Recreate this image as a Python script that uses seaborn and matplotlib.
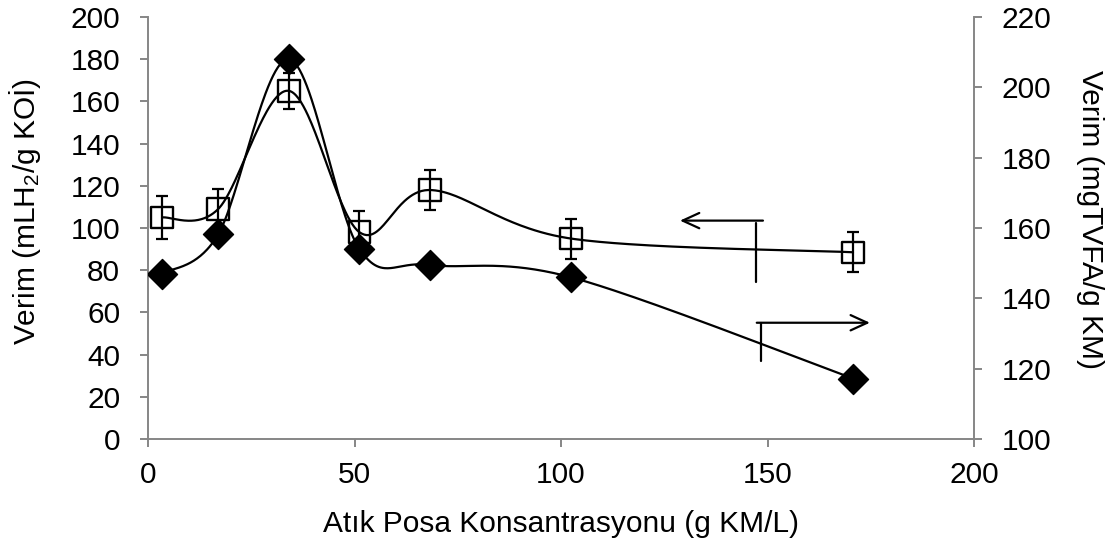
import numpy as np
import pandas as pd
import matplotlib
matplotlib.use("Agg")
import matplotlib.pyplot as plt
import seaborn as sns

# Waste pulp concentration (g KM/L)
conc = [3.4, 17.0, 34.1, 51.2, 68.3, 102.4, 170.7]
# Hydrogen yield (mL H2 / g KOİ) with error
h2_yield = [105, 109, 165, 98, 118, 95, 88.5]
h2_err = [10, 9.5, 8.5, 10, 9.5, 9.5, 9.5]
# Total VFA yield (mg TVFA / g KM)
vfa_yield = [147, 158.2, 208, 154, 149.5, 146, 117.2]

x_ticks = [0, 50, 100, 150, 200]
left_ticks = list(range(0, 201, 20))
right_ticks = list(range(100, 221, 20))

GRAY = "#868686"


def smooth(x, y, n=60):
    """Catmull-Rom style Bezier smoothing through the data points."""
    p = np.column_stack([x, y]).astype(float)
    p = np.vstack([p[0], p, p[-1]])
    t = np.linspace(0, 1, n)[:, None]
    segs = []
    for i in range(1, len(p) - 2):
        p0, p1, p2, p3 = p[i - 1], p[i], p[i + 1], p[i + 2]
        b1 = p1 + (p2 - p0) / 6.0
        b2 = p2 - (p3 - p1) / 6.0
        seg = ((1 - t) ** 3) * p1 + 3 * ((1 - t) ** 2) * t * b1 \
            + 3 * (1 - t) * t ** 2 * b2 + t ** 3 * p2
        segs.append(seg if i == 1 else seg[1:])
    s = np.vstack(segs)
    return s[:, 0], s[:, 1]


sns.set_theme(style="white")
plt.rcParams["font.family"] = ["Liberation Sans", "DejaVu Sans"]
plt.rcParams["mathtext.fontset"] = "custom"
plt.rcParams["mathtext.rm"] = "Liberation Sans"
plt.rcParams["mathtext.it"] = "Liberation Sans"
plt.rcParams["text.color"] = "black"
plt.rcParams["axes.labelcolor"] = "black"

FS = 21.5

fig = plt.figure(figsize=(11.14, 5.5), dpi=100)
ax = fig.add_axes([148 / 1114, 1 - 439 / 550, 826 / 1114, 422 / 550])
ax2 = ax.twinx()

h2_df = pd.DataFrame({"conc": conc, "y": h2_yield})
vfa_df = pd.DataFrame({"conc": conc, "y": vfa_yield})

# smoothed curves
sx, sy = smooth(conc, h2_yield)
sns.lineplot(x=sx, y=sy, ax=ax, color="black", lw=1.6, sort=False,
             estimator=None, zorder=2)
vx, vy = smooth(conc, vfa_yield)
sns.lineplot(x=vx, y=vy, ax=ax2, color="black", lw=1.6, sort=False,
             estimator=None, zorder=2)

# hydrogen yield markers with error bars
ax.errorbar(conc, h2_yield, yerr=h2_err, fmt="none", ecolor="black",
            elinewidth=1.6, capsize=4.3, capthick=1.6, zorder=3)
sns.scatterplot(data=h2_df, x="conc", y="y", ax=ax, marker="s", s=15.5 ** 2,
                facecolor="none", edgecolor="black", linewidth=1.7, zorder=4)

# VFA yield markers
sns.scatterplot(data=vfa_df, x="conc", y="y", ax=ax2, marker="D", s=15.3 ** 2,
                color="black", edgecolor="black", linewidth=1, zorder=4)

ax.set_xlim(0, 200)
ax.set_ylim(0, 200)
ax2.set_ylim(100, 220)
ax.set_xticks(x_ticks)
ax.set_yticks(left_ticks)
ax2.set_yticks(right_ticks)
ax.set_xlabel("")
ax.set_ylabel("")
ax2.set_ylabel("")

for a in (ax, ax2):
    for sp in a.spines.values():
        sp.set_visible(False)
ax.spines["left"].set_visible(True)
ax.spines["bottom"].set_visible(True)
ax2.spines["right"].set_visible(True)
for sp in (ax.spines["left"], ax.spines["bottom"], ax2.spines["right"]):
    sp.set_color(GRAY)
    sp.set_linewidth(1.4)

ax.tick_params(axis="x", direction="out", length=6, width=1.4, color=GRAY,
               labelcolor="black", labelsize=FS, pad=10, bottom=True)
ax.tick_params(axis="y", direction="out", length=6, width=1.4, color=GRAY,
               labelcolor="black", labelsize=FS, pad=14, left=True,
               right=False)
ax2.tick_params(axis="y", direction="out", length=6, width=1.4, color=GRAY,
                labelcolor="black", labelsize=FS, pad=14, right=True,
                left=False)

# arrows pointing each series to its axis
ax.annotate("", xy=(128.8, 103.5), xytext=(148.9, 103.5),
            arrowprops=dict(arrowstyle="->,head_length=1.2,head_width=0.55",
                            color="black", lw=1.6, mutation_scale=10,
                            shrinkA=0, shrinkB=0))
ax.plot([147.3, 147.3], [102.5, 74.2], color="black", lw=1.6)
ax.annotate("", xy=(174.8, 55.1), xytext=(147.4, 55.1),
            arrowprops=dict(arrowstyle="->,head_length=1.2,head_width=0.55",
                            color="black", lw=1.6, mutation_scale=10,
                            shrinkA=0, shrinkB=0))
ax.plot([148.4, 148.4], [55.1, 37.0], color="black", lw=1.6)

fig.text(25 / 1114, 1 - 212 / 550, "Verim (mLH$_2$/g KOİ)", rotation=90,
         ha="center", va="center", fontsize=FS)
fig.text(1090 / 1114, 1 - 220 / 550, "Verim (mgTVFA/g KM)", rotation=-90,
         ha="center", va="center", fontsize=FS)
fig.text(561 / 1114, 1 - 524 / 550, "Atık Posa Konsantrasyonu (g KM/L)",
         ha="center", va="center", fontsize=FS)

fig.savefig("out.png", dpi=100, facecolor="white")
